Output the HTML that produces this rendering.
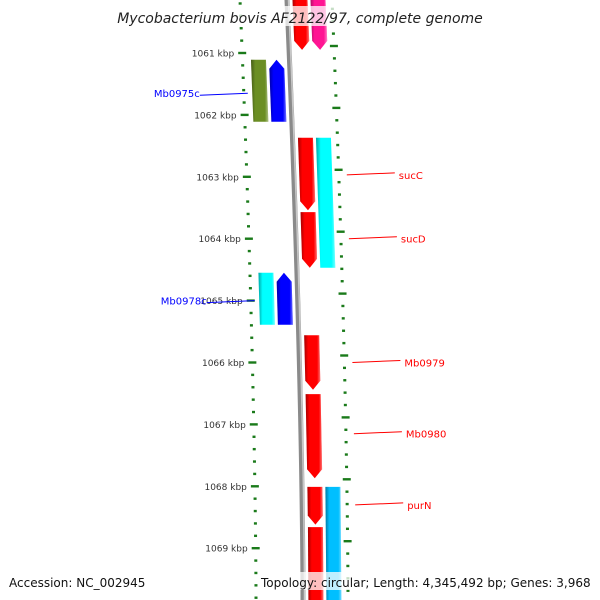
<!DOCTYPE html>
<html><head><meta charset="utf-8">
<style>
html,body{margin:0;padding:0;background:#fff;}
svg{display:block;font-family:"DejaVu Sans","Liberation Sans",sans-serif;}
</style></head>
<body>
<svg id="map" width="600" height="600" viewBox="0 0 600 600" xmlns="http://www.w3.org/2000/svg">
<defs>
<linearGradient id="shade" x1="0" x2="1" y1="0" y2="0">
<stop offset="0" stop-color="#000" stop-opacity="0.35"/>
<stop offset="0.25" stop-color="#000" stop-opacity="0"/>
<stop offset="0.8" stop-color="#fff" stop-opacity="0"/>
<stop offset="1" stop-color="#fff" stop-opacity="0.45"/>
</linearGradient>
</defs>
<g id="ticks"></g>
<g id="backbone"></g>
<g id="features"></g>
<g id="labels"></g>
<rect x="118" y="6" width="364" height="20" fill="#fff" opacity="0.75"/>
<text x="300" y="23" text-anchor="middle" font-size="14" font-style="italic" fill="#222">Mycobacterium bovis AF2122/97, complete genome</text>
<rect x="6" y="572" width="140" height="18" fill="#fff" opacity="0.75"/>
<text x="9" y="587" font-size="12" fill="#111">Accession: NC_002945</text>
<rect x="259" y="572" width="336" height="18" fill="#fff" opacity="0.75"/>
<text x="261" y="587" font-size="12" fill="#111">Topology: circular; Length: 4,345,492 bp; Genes: 3,968</text>
</svg>
<script>
const featStart = [1060000,1060000,1061110,1061110,1062370,1062370,1063570,1064550,1064550,1065560,1066510,1068010,1068010,1068660];
const featEnd   = [1060950,1060950,1062110,1062110,1063540,1064470,1064470,1065390,1065390,1066440,1067870,1068620,1070000,1070000];
const featTrack = [2,3,0,1,2,3,2,0,1,2,2,2,3,2];
const featArrow = ['end','end','none','start','end','none','end','none','start','end','end','end','none','none'];
const featColor = ['#ff0000','#ff1493','#6b8e23','#0000ff','#ff0000','#00ffff','#ff0000','#00ffff','#0000ff','#ff0000','#ff0000','#ff0000','#00bfff','#ff0000'];
const tickKbp = [1061,1062,1063,1064,1065,1066,1067,1068,1069];
const tickLabels = ['1061 kbp','1062 kbp','1063 kbp','1064 kbp','1065 kbp','1066 kbp','1067 kbp','1068 kbp','1069 kbp'];
const geneNames = ['Mb0975c','sucC','sucD','Mb0978c','Mb0979','Mb0980','purN'];
const geneBp = [1061650,1062970,1064000,1065000,1066000,1067150,1068300];
const geneSide = ['left','right','right','left','right','right','right'];

const NS='http://www.w3.org/2000/svg';
const Y0=53, PX=0.0619;
function yOf(bp){return Y0+(bp-1061000)*PX;}
function off(y){const t=Math.max(0,Math.min(1.2,(600-y)/600));return 16*(1-Math.pow(Math.max(t,0),1.6));}
const trackBase=[256,274,300,318];
const W=15;
function mk(tag,attrs,parent){const e=document.createElementNS(NS,tag);for(const k in attrs)e.setAttribute(k,attrs[k]);parent.appendChild(e);return e;}

// backbone
const bb=document.getElementById('backbone');
let d='';for(let y=-10;y<=610;y+=10){d+=(y===-10?'M':'L')+(287+off(y)).toFixed(2)+' '+y;}
const bbp=mk('path',{d:d,stroke:'#8a8a8a','stroke-width':5,fill:'none'},bb);


const bbp2=mk('path',{d:d,stroke:'#c8c8c8','stroke-width':1.5,fill:'none',transform:'translate(1.5,0)'},bb);



// ticks
const tg=document.getElementById('ticks');
for(let bp=1060000;bp<=1070000;bp+=200){
  const y=yOf(bp);if(y<-5||y>605)continue;
  const major=(bp%1000===0);
  [240,332].forEach((base,side)=>{
    const yy=side===1?y-7:y;
    const x=base+off(yy);
    const len=major?8:3;
    const r=mk('rect',{x:(x-len/2).toFixed(2),y:(yy-1.2).toFixed(2),width:len,height:2.4,fill:'#1a7a1a'},tg);
    
    
  });
}
tickKbp.forEach((k,i)=>{
  const y=yOf(k*1000);
  const t=mk('text',{x:(232+off(y)).toFixed(1),y:(y+3.5).toFixed(1),'text-anchor':'end','font-size':9,fill:'#333'},tg);
  t.textContent=tickLabels[i];
  
  
});

// features
const fg=document.getElementById('features');
for(let i=0;i<featStart.length;i++){
  const y1=yOf(featStart[i]), y2=yOf(featEnd[i]);
  const b=trackBase[featTrack[i]];
  const xl1=b-W/2+off(y1), xr1=b+W/2+off(y1), xl2=b-W/2+off(y2), xr2=b+W/2+off(y2);
  let pts;
  const ah=9;
  if(featArrow[i]==='end'){
    const ym=y2-ah, om=off(ym);
    pts=[[xl1,y1],[xr1,y1],[b+W/2+om,ym],[b+off(y2),y2],[b-W/2+om,ym]];
  }else if(featArrow[i]==='start'){
    const ym=y1+ah, om=off(ym);
    pts=[[b+off(y1),y1],[b+W/2+om,ym],[xr2,y2],[xl2,y2],[b-W/2+om,ym]];
  }else{
    pts=[[xl1,y1],[xr1,y1],[xr2,y2],[xl2,y2]];
  }
  const ps=pts.map(p=>p[0].toFixed(2)+','+p[1].toFixed(2)).join(' ');
  const g=mk('g',{},fg);
  
  
  mk('polygon',{points:ps,fill:featColor[i]},g);
  mk('polygon',{points:ps,fill:'url(#shade)'},g);
}

// labels
const lg=document.getElementById('labels');
geneNames.forEach((n,i)=>{
  const y=yOf(geneBp[i]);
  let x1,x2,tx,anchor,col;
  if(geneSide[i]==='left'){x1=248+off(y)-4;x2=x1-48;tx=x2;anchor='end';col='#0000ff';}
  else{x1=340+off(y);x2=x1+48;tx=x2+4;anchor='start';col='#ff0000';}
  const l=mk('line',{x1:x1.toFixed(1),y1:y.toFixed(1),x2:x2.toFixed(1),y2:(y+(geneSide[i]==='left'?2:-2)).toFixed(1),stroke:col,'stroke-width':1},lg);
  
  
  const t=mk('text',{x:tx.toFixed(1),y:(y+4).toFixed(1),'text-anchor':anchor,'font-size':10,fill:col},lg);
  t.textContent=n;
  
  
});
</script>
</body></html>
